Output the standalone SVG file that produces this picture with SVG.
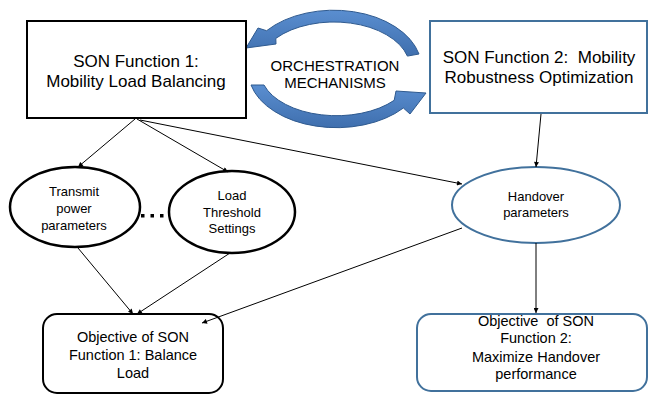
<svg xmlns="http://www.w3.org/2000/svg" width="649" height="395" viewBox="0 0 649 395">
<defs>
<style>
text{font-family:"Liberation Sans",Arial,sans-serif;fill:#000;text-anchor:middle;white-space:pre}
.big{font-size:17px}
.orch{font-size:15px}
.sm{font-size:13px}
.md{font-size:14.5px}
.blk{fill:#fff;stroke:#000;stroke-width:2}
.blu{fill:#fff;stroke:#41719C;stroke-width:2}
.ell{fill:#fff;stroke:#000;stroke-width:2.5}
.conn line{stroke:#000;stroke-width:1;marker-end:url(#ah)}
.curv{fill:url(#g);stroke:#2F5A8F;stroke-width:1}
</style>
<linearGradient id="g" x1="0" y1="0" x2="0" y2="1">
<stop offset="0" stop-color="#5A8ED0"/>
<stop offset="1" stop-color="#3F6FAE"/>
</linearGradient>
<marker id="ah" viewBox="0 0 10 10" refX="10" refY="5" markerWidth="6" markerHeight="5" markerUnits="userSpaceOnUse" orient="auto">
<path d="M0,0 L10,5 L0,10 Z" fill="#000"/>
</marker>
</defs>
<rect width="649" height="395" fill="#fff"/>

<g id="orchestration">
<path class="curv" d="M419,54 A88 58 0 0 0 266.6,30.7 L258,28 L246,48 L276,44 L275.8,38.4 A76 46 0 0 1 407.4,56.1 Z"/>
<path class="curv" d="M251,85 A88 56 0 0 0 403.4,108 L410,114 L426,93 L396,91 L394.2,100.3 A76 44 0 0 1 264,85 Z"/>
<text class="orch" x="335" y="71">ORCHESTRATION</text>
<text class="orch" x="335" y="88">MECHANISMS</text>
</g>

<g id="son1">
<rect class="blk" x="27" y="21" width="219" height="97"/>
<text class="big" x="136" y="67">SON Function 1:</text>
<text class="big" x="136" y="87">Mobility Load Balancing</text>
</g>

<g id="son2">
<rect class="blu" x="430" y="21" width="217" height="92"/>
<text class="big" x="539" y="63">SON Function 2:  Mobility</text>
<text class="big" x="539" y="83">Robustness Optimization</text>
</g>

<g id="transmit">
<ellipse class="ell" cx="75" cy="207" rx="65" ry="40"/>
<text class="sm" x="74" y="196">Transmit</text>
<text class="sm" x="74" y="213">power</text>
<text class="sm" x="74" y="230">parameters</text>
</g>

<g id="dots">
<rect x="141" y="214" width="3.5" height="3.5" fill="#000"/>
<rect x="150.5" y="214" width="3.5" height="3.5" fill="#000"/>
<rect x="160" y="214" width="3.5" height="3.5" fill="#000"/>
</g>

<g id="threshold">
<ellipse class="ell" cx="232" cy="212" rx="63" ry="41"/>
<text class="sm" x="232" y="200">Load</text>
<text class="sm" x="232" y="217">Threshold</text>
<text class="sm" x="232" y="233">Settings</text>
</g>

<g id="handover">
<ellipse class="blu" cx="536" cy="205" rx="84" ry="38"/>
<text class="sm" x="536" y="201">Handover</text>
<text class="sm" x="536" y="217">parameters</text>
</g>

<g id="obj1">
<rect class="blk" x="43" y="314" width="180" height="79" rx="14"/>
<text class="md" x="133" y="342">Objective of SON</text>
<text class="md" x="133" y="360">Function 1: Balance</text>
<text class="md" x="133" y="378">Load</text>
</g>

<g id="obj2">
<rect class="blu" x="417" y="314" width="230" height="77" rx="14"/>
<text class="md" x="536" y="326">Objective  of SON</text>
<text class="md" x="536" y="343">Function 2:</text>
<text class="md" x="536" y="362">Maximize Handover</text>
<text class="md" x="536" y="379">performance</text>
</g>

<g id="connectors" class="conn">
<line x1="135" y1="119" x2="78" y2="167"/>
<line x1="137" y1="119" x2="228" y2="172"/>
<line x1="140" y1="120" x2="462" y2="184"/>
<line x1="541" y1="114" x2="536" y2="167"/>
<line x1="78" y1="248" x2="133" y2="314"/>
<line x1="230" y1="253" x2="137" y2="314"/>
<line x1="462" y1="228" x2="202" y2="323"/>
<line x1="536" y1="243" x2="536" y2="313"/>
</g>
</svg>
